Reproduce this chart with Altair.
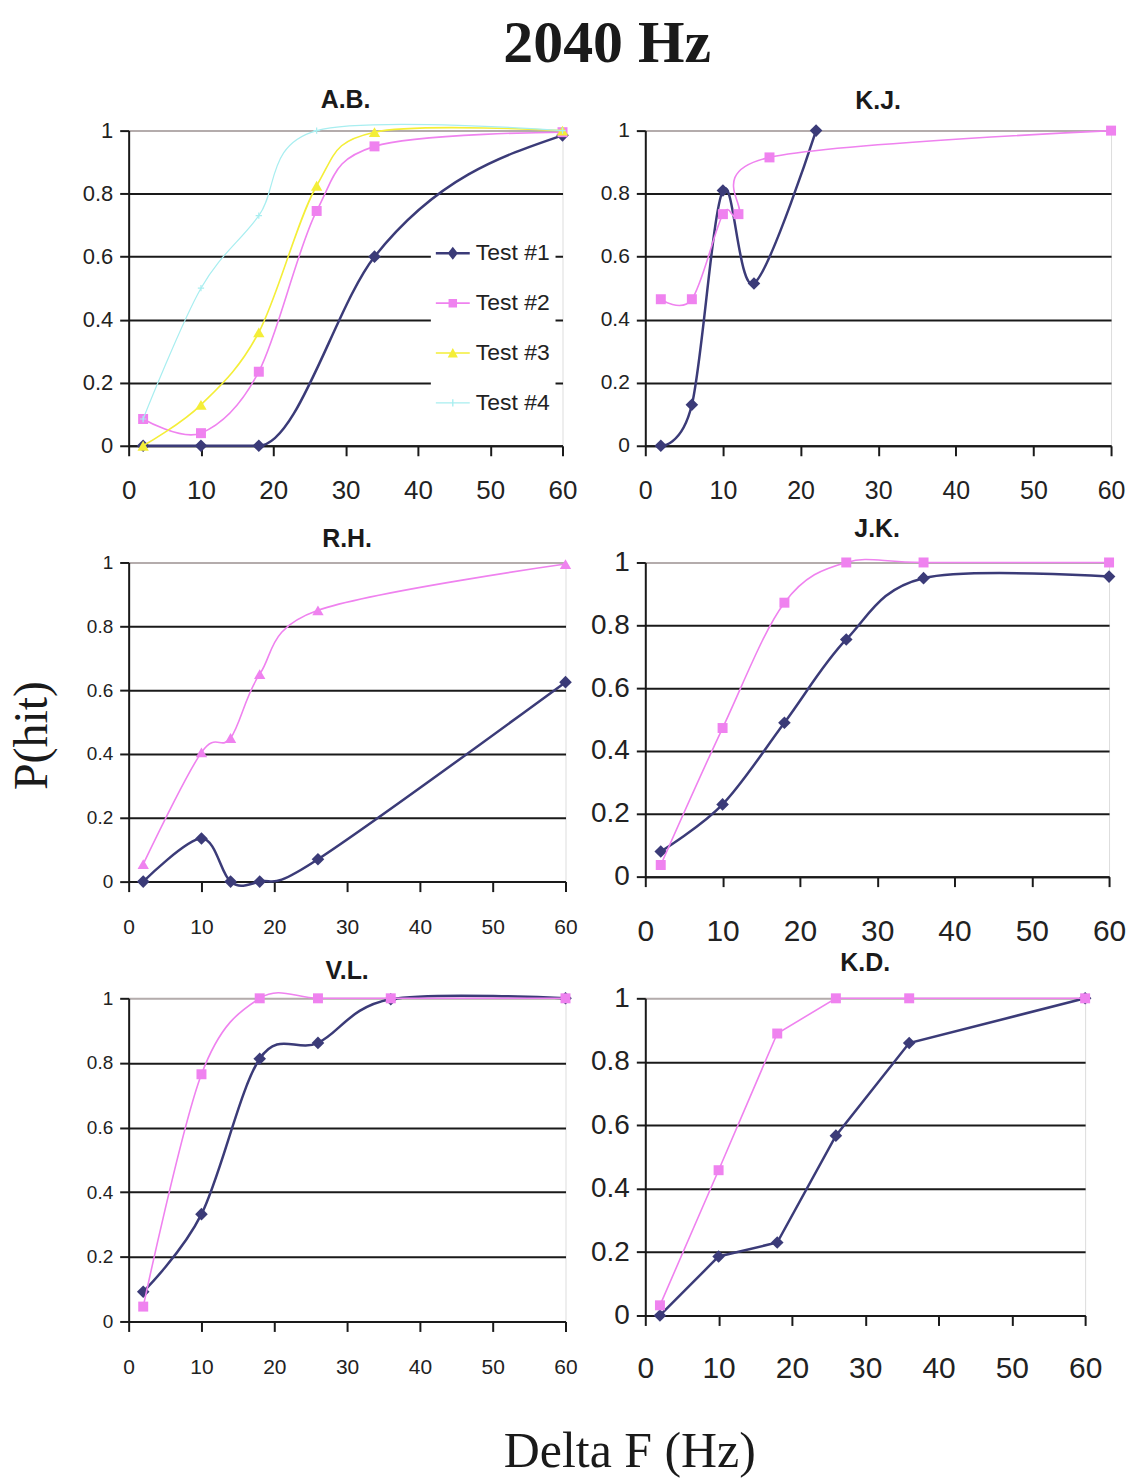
import altair as alt
import pandas as pd

TESTS = ["Test #1", "Test #2", "Test #3", "Test #4"]
X_TICKS = [0, 10, 20, 30, 40, 50, 60]
Y_TICKS = [0, 0.2, 0.4, 0.6, 0.8, 1]

# ---- A.B. ----
AB_X1 = [2, 10, 18, 34, 60]
AB_Y1 = [0, 0, 0, 0.6, 0.985]
AB_X2 = [2, 10, 18, 26, 34, 60]
AB_Y2 = [0.085, 0.04, 0.235, 0.745, 0.95, 0.995]
AB_X3 = [2, 10, 18, 26, 34, 60]
AB_Y3 = [0, 0.13, 0.36, 0.825, 0.995, 1.0]
AB_X4 = [2, 10, 18, 26, 60]
AB_Y4 = [0.085, 0.5, 0.73, 1.0, 1.0]
# ---- K.J. ----
KJ_X1 = [2, 6, 10, 14, 22]
KJ_Y1 = [0, 0.13, 0.81, 0.515, 1.0]
KJ_X2 = [2, 6, 10, 12, 16, 60]
KJ_Y2 = [0.465, 0.465, 0.735, 0.735, 0.915, 1.0]
# ---- R.H. ----
RH_X1 = [2, 10, 14, 18, 26, 60]
RH_Y1 = [0, 0.135, 0.0, 0.0, 0.07, 0.625]
RH_X2 = [2, 10, 14, 18, 26, 60]
RH_Y2 = [0.055, 0.405, 0.45, 0.65, 0.85, 0.995]
# ---- J.K. ----
JK_X1 = [2, 10, 18, 26, 36, 60]
JK_Y1 = [0.08, 0.23, 0.49, 0.755, 0.95, 0.955]
JK_X2 = [2, 10, 18, 26, 36, 60]
JK_Y2 = [0.037, 0.473, 0.872, 1.0, 1.0, 1.0]
# ---- V.L. ----
VL_X1 = [2, 10, 18, 26, 36, 60]
VL_Y1 = [0.092, 0.332, 0.813, 0.862, 0.997, 1.0]
VL_X2 = [2, 10, 18, 26, 36, 60]
VL_Y2 = [0.046, 0.765, 1.0, 1.0, 1.0, 1.0]
# ---- K.D. ----
KD_X1 = [2, 10, 18, 26, 36, 60]
KD_Y1 = [0, 0.186, 0.23, 0.567, 0.859, 1.0]
KD_X2 = [2, 10, 18, 26, 36, 60]
KD_Y2 = [0.032, 0.458, 0.889, 1.0, 1.0, 1.0]

NAVY = "#3b3b78"
PINK = "#ef82ef"
YELLOW = "#f4ee38"
CYAN = "#a8eef0"
COLORS = {"Test #1": NAVY, "Test #2": PINK, "Test #3": YELLOW, "Test #4": CYAN}
LINE_W = {"Test #1": 2.5, "Test #2": 1.6, "Test #3": 1.6, "Test #4": 1.2}

LABEL_FONT = "Liberation Sans"
SERIF = "Liberation Serif"
SANS = "Liberation Sans"

CROSS = "M-1,0H1M0,-1V1"
MARK = {
    "diamond": dict(shape="diamond", size=160, filled=True),
    "square": dict(shape="square", size=100, filled=True),
    "triangle": dict(shape="triangle-up", size=130, filled=True),
    "cross": dict(shape=CROSS, size=40, filled=False),
}

GRID_COLOR = {"condition": {"test": "datum.value >= 1", "value": "#b4acac"}, "value": "#1a1a1a"}

# legend symbols: line + marker, all as filled clockwise sub-paths
LEGEND_PATHS = [
    "M-1,-0.075H1V0.075H-1Z M-0.3,0L0,-0.38L0.3,0L0,0.38Z",
    "M-1,-0.05H1V0.05H-1Z M-0.25,-0.25H0.25V0.25H-0.25Z",
    "M-1,-0.05H1V0.05H-1Z M-0.3,0.26L0,-0.3L0.3,0.26Z",
    "M-1,-0.035H1V0.035H-1Z M-0.04,-0.22H0.04V0.22H-0.04Z",
]


def panel(title, series, width, height, ylab_size, xlab_size, xlab_pad,
          title_offset, ytitle=None, xtitle=None, legend=False):
    xs = alt.Scale(domain=[0, 60], nice=False, zero=False)
    ys = alt.Scale(domain=[0, 1], nice=False, zero=False)
    xa = dict(values=X_TICKS, grid=False, domainColor="#1a1a1a", domainWidth=2,
              tickColor="#1a1a1a", tickWidth=2, tickSize=10, labelFont=LABEL_FONT,
              labelFontSize=xlab_size, labelColor="#222222", labelPadding=xlab_pad,
              labelFlush=False, title=None)
    if xtitle:
        xa.update(title=xtitle["text"], titleFont=SERIF, titleFontSize=xtitle["size"],
                  titleFontWeight="normal", titleColor="#1a1a1a", titleX=xtitle["x"],
                  titleY=xtitle["y"], titleAlign="center", titleBaseline="alphabetic")
    ya = dict(values=Y_TICKS, format="~g", grid=True, gridColor=GRID_COLOR, gridWidth=2,
              domainColor="#1a1a1a", domainWidth=2, tickColor="#1a1a1a", tickWidth=2,
              tickSize=9, labelFont=LABEL_FONT, labelFontSize=ylab_size, labelColor="#222222",
              labelPadding=7, labelFlush=False, title=None)
    if ytitle:
        ya.update(title=ytitle["text"], titleFont=SERIF, titleFontSize=ytitle["size"],
                  titleFontWeight="normal", titleColor="#1a1a1a", titleX=ytitle["x"],
                  titleY=ytitle["y"], titleAngle=-90, titleAlign="center",
                  titleBaseline="alphabetic")
    X = alt.X("x:Q", scale=xs, axis=alt.Axis(**xa))
    Y = alt.Y("y:Q", scale=ys, axis=alt.Axis(**ya))
    layers = []
    for test, xv, yv, marker, interp in series:
        df = pd.DataFrame({"x": xv, "y": yv, "test": test})
        base = alt.Chart(df)
        layers.append(base.mark_line(color=COLORS[test], strokeWidth=LINE_W[test],
                                     interpolate=interp).encode(x=X, y=Y))
        m = MARK[marker]
        layers.append(base.mark_point(shape=m["shape"], size=m["size"], filled=m["filled"],
                                      color=COLORS[test], opacity=1,
                                      strokeWidth=1.2).encode(x=X, y=Y))
    if legend:
        ldf = pd.DataFrame({"x": [s[1][0] for s in series], "y": [s[2][0] for s in series],
                            "test": [s[0] for s in series]})
        lg = dict(orient="none", legendX=303, legendY=101, fillColor="white", padding=5,
                  title=None, symbolSize=1156, symbolStrokeWidth=0, symbolOpacity=1,
                  labelFont=LABEL_FONT, labelFontSize=23, labelColor="#222222",
                  rowPadding=21, labelOffset=6)
        layers.append(alt.Chart(ldf).mark_point(filled=True, opacity=0, size=1156).encode(
            x=X, y=Y,
            color=alt.Color("test:N", scale=alt.Scale(domain=TESTS, range=[COLORS[t] for t in TESTS]),
                            legend=alt.Legend(**lg)),
            shape=alt.Shape("test:N", scale=alt.Scale(domain=TESTS, range=LEGEND_PATHS),
                            legend=alt.Legend(**lg)),
        ))
    return alt.layer(*layers).properties(
        width=width, height=height,
        title=alt.Title(title, font=SANS, fontSize=25, fontWeight="bold", color="#1a1a1a",
                        anchor="middle", offset=title_offset),
    )


C = "cardinal"
ab = panel("A.B.", [("Test #1", AB_X1, AB_Y1, "diamond", "monotone"),
                    ("Test #2", AB_X2, AB_Y2, "square", C),
                    ("Test #3", AB_X3, AB_Y3, "triangle", C),
                    ("Test #4", AB_X4, AB_Y4, "cross", C)],
           435, 316, 22, 26, 22, 7, legend=True)
kj = panel("K.J.", [("Test #1", KJ_X1, KJ_Y1, "diamond", C), ("Test #2", KJ_X2, KJ_Y2, "square", C)],
           467, 316, 21, 25, 23, 6)
rh = panel("R.H.", [("Test #1", RH_X1, RH_Y1, "diamond", C), ("Test #2", RH_X2, RH_Y2, "triangle", C)],
           438, 320, 19, 21, 25, 2,
           ytitle=dict(text="P(hit)", size=48, x=-82, y=173))
jk = panel("J.K.", [("Test #1", JK_X1, JK_Y1, "diamond", C), ("Test #2", JK_X2, JK_Y2, "square", C)],
           465, 315, 28, 30, 30, 7)
vl = panel("V.L.", [("Test #1", VL_X1, VL_Y1, "diamond", C), ("Test #2", VL_X2, VL_Y2, "square", C)],
           438, 324, 19, 21, 25, 5,
           xtitle=dict(text="Delta F (Hz)", size=50, x=502, y=145))
kd = panel("K.D.", [("Test #1", KD_X1, KD_Y1, "diamond", "linear"),
                    ("Test #2", KD_X2, KD_Y2, "square", "linear")],
           441, 318, 28, 30, 28, 8)

chart = alt.concat(ab, kj, rh, jk, vl, kd, columns=2, bounds="flush",
                   spacing={"row": 117, "column": 80}).properties(
    title=alt.Title("2040 Hz", font=SERIF, fontSize=60, fontWeight="bold", color="#1a1a1a",
                    anchor="middle", offset=12, dx=40),
    padding={"left": 8, "top": 12, "right": 5, "bottom": 0},
).configure_view(stroke="#b4acac", strokeWidth=1.5).configure(background="white")

chart.save("out.html", embed_options={"renderer": "svg", "actions": False})
